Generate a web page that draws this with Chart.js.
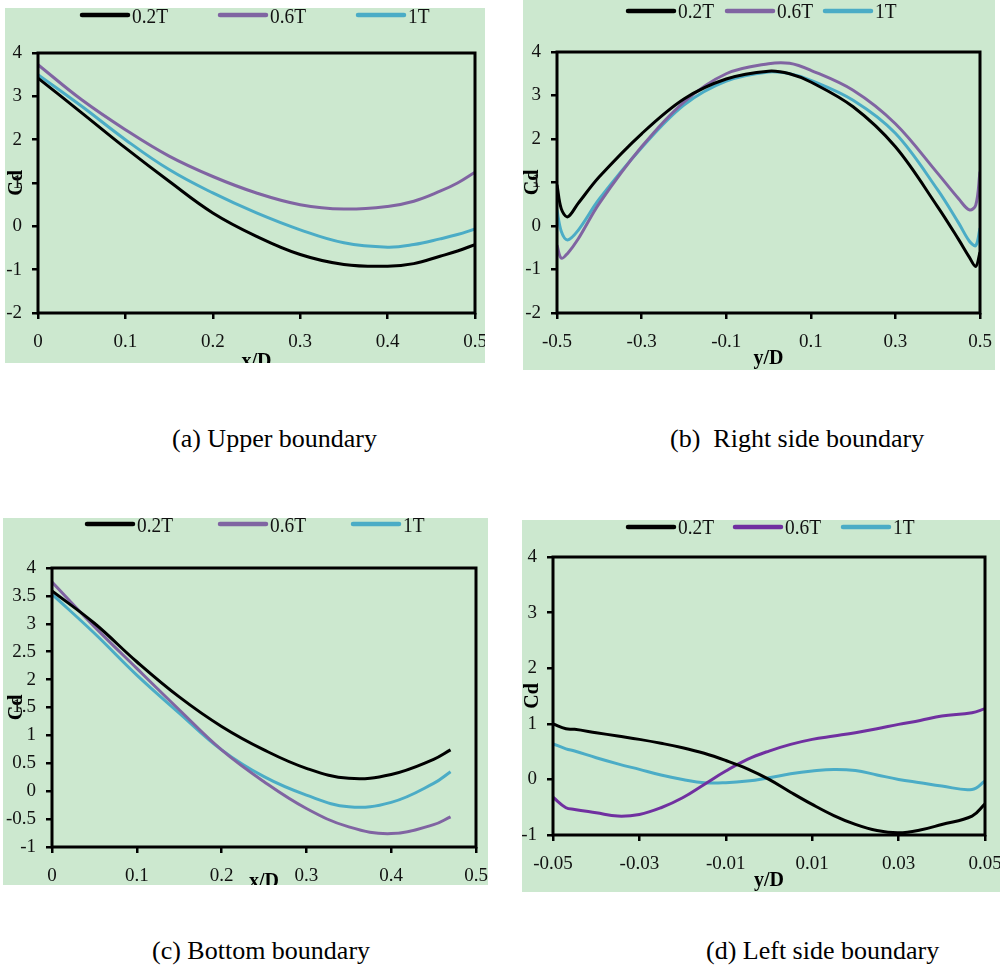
<!DOCTYPE html>
<html>
<head>
<meta charset="utf-8">
<script src="https://cdn.jsdelivr.net/npm/chart.js@4.4.1/dist/chart.umd.min.js"></script>
<style>
  html, body { margin: 0; padding: 0; background: #ffffff; }
  body { width: 1000px; height: 970px; position: relative; overflow: hidden; font-family: "Liberation Serif", "Times New Roman", serif; }
  .panel { position: absolute; background: #cce8cf; overflow: hidden; }
  .panel canvas { position: absolute; left: 0; top: 0; }
  .cap { position: absolute; font-size: 26px; line-height: 30px; white-space: pre; color: #000; }
</style>
</head>
<body>
<div class="panel" id="pa" style="left:5px;top:8px;width:480px;height:355px"><canvas id="ca" width="480" height="366"></canvas></div>
<div class="panel" id="pb" style="left:523px;top:0px;width:472px;height:370px"><canvas id="cb" width="472" height="371"></canvas></div>
<div class="panel" id="pc" style="left:3px;top:518px;width:485px;height:367px"><canvas id="cc" width="485" height="376"></canvas></div>
<div class="panel" id="pd" style="left:522px;top:520px;width:478px;height:372px"><canvas id="cd" width="478" height="373"></canvas></div>

<div class="cap" style="left:172px;top:424px">(a) Upper boundary</div>
<div class="cap" style="left:670px;top:424px">(b)  Right side boundary</div>
<div class="cap" style="left:152px;top:936px">(c) Bottom boundary</div>
<div class="cap" style="left:706px;top:936px">(d) Left side boundary</div>

<script>
// ---------------- DATA ----------------
const seriesLabels = ['0.2T', '0.6T', '1T'];

// (a) Upper boundary
const upperX   = [0, 0.05, 0.1, 0.15, 0.2, 0.25, 0.3, 0.35, 0.4, 0.43, 0.46, 0.48, 0.5];
const upper02T = [3.42, 2.62, 1.81, 1.04, 0.31, -0.23, -0.65, -0.88, -0.92, -0.86, -0.69, -0.57, -0.42];
const upper06T = [3.73, 2.92, 2.23, 1.62, 1.15, 0.77, 0.50, 0.40, 0.46, 0.58, 0.81, 1.00, 1.25];
const upper1T  = [3.50, 2.77, 2.00, 1.31, 0.77, 0.31, -0.08, -0.38, -0.48, -0.42, -0.29, -0.19, -0.06];
const upperXTicks = [0, 0.1, 0.2, 0.3, 0.4, 0.5];
const upperYTicks = [-2, -1, 0, 1, 2, 3, 4];

// (b) Right side boundary
const rightX   = [-0.5, -0.49, -0.475, -0.45, -0.4, -0.3, -0.2, -0.1, 0, 0.05, 0.1, 0.2, 0.3, 0.4, 0.45, 0.475, 0.49, 0.5];
const right02T = [0.95, 0.40, 0.21, 0.52, 1.13, 2.12, 2.92, 3.38, 3.56, 3.50, 3.31, 2.74, 1.82, 0.44, -0.32, -0.72, -0.93, -0.60];
const right06T = [-0.44, -0.74, -0.63, -0.30, 0.52, 1.82, 2.85, 3.50, 3.73, 3.74, 3.58, 3.12, 2.35, 1.21, 0.62, 0.37, 0.48, 1.25];
const right1T  = [0.37, -0.12, -0.32, -0.10, 0.62, 1.80, 2.78, 3.33, 3.54, 3.50, 3.35, 2.89, 2.13, 0.83, 0.06, -0.35, -0.45, -0.05];
const rightXTicks = [-0.5, -0.3, -0.1, 0.1, 0.3, 0.5];
const rightYTicks = [-2, -1, 0, 1, 2, 3, 4];

// (c) Bottom boundary
const bottomX   = [0, 0.05, 0.1, 0.15, 0.2, 0.25, 0.3, 0.35, 0.4, 0.45, 0.47];
const bottom02T = [3.59, 3.01, 2.32, 1.69, 1.16, 0.74, 0.41, 0.23, 0.30, 0.57, 0.74];
const bottom06T = [3.75, 2.95, 2.20, 1.46, 0.74, 0.17, -0.31, -0.64, -0.76, -0.60, -0.46];
const bottom1T  = [3.53, 2.83, 2.08, 1.40, 0.74, 0.26, -0.07, -0.28, -0.20, 0.14, 0.35];
const bottomXTicks = [0, 0.1, 0.2, 0.3, 0.4, 0.5];
const bottomYTicks = [-1, -0.5, 0, 0.5, 1, 1.5, 2, 2.5, 3, 3.5, 4];

// (d) Left side boundary
const leftX   = [-0.05, -0.047, -0.045, -0.04, -0.035, -0.03, -0.025, -0.02, -0.015, -0.01, -0.005, 0, 0.005, 0.01, 0.015, 0.02, 0.025, 0.03, 0.035, 0.04, 0.047, 0.05];
const left02T = [1.00, 0.91, 0.90, 0.84, 0.78, 0.72, 0.65, 0.57, 0.47, 0.34, 0.19, 0.00, -0.23, -0.45, -0.65, -0.81, -0.92, -0.96, -0.91, -0.81, -0.66, -0.44];
const left06T = [-0.32, -0.51, -0.54, -0.60, -0.66, -0.63, -0.51, -0.33, -0.09, 0.15, 0.36, 0.51, 0.63, 0.72, 0.78, 0.84, 0.91, 0.99, 1.06, 1.14, 1.20, 1.27];
const left1T  = [0.64, 0.55, 0.51, 0.39, 0.28, 0.18, 0.08, 0.00, -0.06, -0.06, -0.03, 0.03, 0.10, 0.15, 0.18, 0.16, 0.08, 0.00, -0.06, -0.12, -0.18, -0.03];
const leftXTicks = [-0.05, -0.03, -0.01, 0.01, 0.03, 0.05];
const leftYTicks = [-1, 0, 1, 2, 3, 4];

// ---------------- STYLE ----------------
const FONT = '"Liberation Serif", "Times New Roman", serif';
const BLACK = '#000000', PURPLE = '#8064a2', PURPLE_D = '#7030a0', CYAN = '#4bacc6';

function fmt(v) { return String(Number(Number(v).toFixed(4))); }

const framePlugin = {
  id: 'frame',
  afterDatasetsDraw(chart) {
    const { ctx, chartArea: a } = chart;
    ctx.save();
    ctx.strokeStyle = '#000';
    ctx.lineWidth = 3;
    ctx.strokeRect(a.left, a.top, a.right - a.left, a.bottom - a.top);
    ctx.restore();
  }
};

function legendPlugin(cfg) {
  return {
    id: 'lineLegend',
    afterDraw(chart) {
      const ctx = chart.ctx;
      chart.data.datasets.forEach((ds, i) => {
        const x = cfg.xs[i];
        ctx.save();
        ctx.strokeStyle = ds.borderColor;
        ctx.lineWidth = 4.5;
        ctx.lineCap = 'round';
        ctx.beginPath();
        ctx.moveTo(x, cfg.y);
        ctx.lineTo(x + 46, cfg.y);
        ctx.stroke();
        ctx.translate(x + 50, cfg.ty);
        ctx.scale(0.88, 1);
        ctx.font = '22px ' + FONT;
        ctx.fillStyle = '#111';
        ctx.textBaseline = 'middle';
        ctx.textAlign = 'left';
        ctx.fillText(ds.label, 0, 0);
        ctx.restore();
      });
    }
  };
}

function makeChart(id, p) {
  const canvas = document.getElementById(id);
  const W = canvas.width, H = canvas.height;
  const ca = p.area;
  const datasets = seriesLabels.map((lab, i) => ({
    label: lab,
    data: p.x.map((xv, j) => ({ x: xv, y: p.ys[i][j] })),
    borderColor: p.colors[i],
    backgroundColor: p.colors[i],
    borderWidth: 3,
    pointRadius: 0,
    pointHoverRadius: 0,
    fill: false,
    tension: p.tension,
    cubicInterpolationMode: 'default'
  }));
  const tickFont = { family: FONT, size: 19 };
  const titleFont = { family: FONT, size: 20, weight: 'bold' };
  return new Chart(canvas, {
    type: 'line',
    data: { datasets },
    options: {
      responsive: false,
      animation: false,
      devicePixelRatio: 1,
      events: [],
      layout: { padding: { left: 0, top: ca.top, right: W - ca.right, bottom: 0 } },
      plugins: { legend: { display: false }, tooltip: { enabled: false }, title: { display: false } },
      scales: {
        x: {
          type: 'linear',
          min: p.xTicks[0], max: p.xTicks[p.xTicks.length - 1],
          afterBuildTicks: s => { s.ticks = p.xTicks.map(v => ({ value: v })); },
          afterFit: s => { s.height = H - ca.bottom; s.paddingLeft = 0; s.paddingRight = 0; },
          ticks: { font: tickFont, color: '#111', padding: 12, maxRotation: 0, autoSkip: false, callback: v => fmt(v) },
          grid: { display: true, drawOnChartArea: false, drawTicks: true, tickLength: 6, lineWidth: 2.5, color: '#000' },
          border: { display: false },
          title: { display: true, text: p.xTitle, font: titleFont, color: '#000', padding: { top: 0, bottom: 0 } }
        },
        y: {
          type: 'linear',
          min: p.yTicks[0], max: p.yTicks[p.yTicks.length - 1],
          afterBuildTicks: s => { s.ticks = p.yTicks.map(v => ({ value: v })); },
          afterFit: s => { s.width = ca.left; s.paddingTop = 0; s.paddingBottom = 0; },
          ticks: { font: tickFont, color: '#111', padding: 10, autoSkip: false, callback: v => fmt(v) },
          grid: { display: true, drawOnChartArea: false, drawTicks: true, tickLength: 6, lineWidth: 2.5, color: '#000' },
          border: { display: false },
          title: { display: true, text: 'Cd', font: titleFont, color: '#000', padding: { top: p.yTitlePad, bottom: 0 } }
        }
      }
    },
    plugins: [framePlugin, legendPlugin(p.legend)]
  });
}

makeChart('ca', {
  x: upperX, ys: [upper02T, upper06T, upper1T], colors: [BLACK, PURPLE, CYAN], tension: 0.4,
  xTicks: upperXTicks, yTicks: upperYTicks, xTitle: 'x/D', yTitlePad: 0,
  area: { left: 33, right: 470, top: 45, bottom: 305 },
  legend: { xs: [77, 215, 353], y: 7, ty: 9 }
});
makeChart('cb', {
  x: rightX, ys: [right02T, right06T, right1T], colors: [BLACK, PURPLE, CYAN], tension: 0.35,
  xTicks: rightXTicks, yTicks: rightYTicks, xTitle: 'y/D', yTitlePad: -2,
  area: { left: 34, right: 457, top: 52, bottom: 313 },
  legend: { xs: [105, 204, 302], y: 11, ty: 12 }
});
makeChart('cc', {
  x: bottomX, ys: [bottom02T, bottom06T, bottom1T], colors: [BLACK, PURPLE, CYAN], tension: 0.4,
  xTicks: bottomXTicks, yTicks: bottomYTicks, xTitle: 'x/D', yTitlePad: 2,
  area: { left: 49, right: 473, top: 50, bottom: 329 },
  legend: { xs: [84, 217, 350], y: 6, ty: 8 }
});
makeChart('cd', {
  x: leftX, ys: [left02T, left06T, left1T], colors: [BLACK, PURPLE_D, CYAN], tension: 0.4,
  xTicks: leftXTicks, yTicks: leftYTicks, xTitle: 'y/D', yTitlePad: -1,
  area: { left: 31, right: 463, top: 37, bottom: 315 },
  legend: { xs: [106, 213, 321], y: 7, ty: 8 }
});
</script>
</body>
</html>
